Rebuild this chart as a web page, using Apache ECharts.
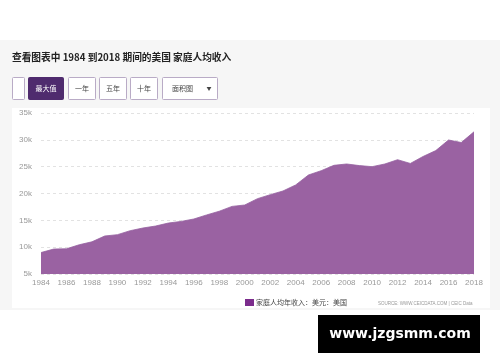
<!DOCTYPE html>
<html><head><meta charset="utf-8">
<script src="https://cdn.jsdelivr.net/npm/echarts@6/dist/echarts.min.js"></script>
<style>html,body{margin:0;padding:0;background:#fff}#c{width:500px;height:362px}</style>
</head><body><div id="c"></div>
<script>
const years = ['1984','1985','1986','1987','1988','1989','1990','1991','1992','1993','1994','1995','1996','1997','1998','1999','2000','2001','2002','2003','2004','2005','2006','2007','2008','2009','2010','2011','2012','2013','2014','2015','2016','2017','2018'];
const income = [9000,9650,9700,10450,11000,12080,12330,13070,13570,13940,14500,14800,15250,16000,16700,17600,17860,19040,19780,20470,21600,23450,24250,25250,25500,25200,25000,25500,26300,25600,26900,28000,29970,29500,31500];
const yTicks = {min:5000, max:35000, interval:5000};
const seriesName = '家庭人均年收入：美元：美国';
const titleText = '查看图表中 1984 到2018 期间的美国 家庭人均收入';
const buttons = ['', '最大值', '一年', '五年', '十年', '面积图'];

const font = '"Noto Sans CJK SC", "Liberation Sans", sans-serif';
const chart = echarts.init(document.getElementById('c'), null, {renderer:'canvas'});

const btnBoxes = [[12,12],[28,35],[68,27],[99,27],[130,27],[162,55]];
const graphics = [
  {type:'rect', z:-10, shape:{x:0,y:40,width:500,height:270}, style:{fill:'#f6f6f6'}},
  {type:'rect', z:-9, shape:{x:12,y:108,width:478,height:200}, style:{fill:'#ffffff'}},
  {type:'text', x:12, y:57, style:{text:titleText, font:'bold 9.7px '+font, fill:'#222', verticalAlign:'middle'}}
];
buttons.forEach((b,i)=>{
  const [x,w] = btnBoxes[i];
  const active = i===1;
  graphics.push({type:'rect', shape:{x:x+0.5,y:77.5,width:w,height:22,r:1},
    style:{fill: active ? '#4f2b6e' : '#fff', stroke: active ? '#4f2b6e' : '#b9abc6', lineWidth:1}});
  if (b) {
    graphics.push({type:'text', x: i===5 ? x+10 : x+w/2+0.5, y:88.5,
      style:{text:b, font:'7px '+font, fill: active ? '#fff' : '#444', align: i===5?'left':'center', verticalAlign:'middle'}});
  }
  if (i===5) {
    graphics.push({type:'text', x:x+47, y:88.5, style:{text:'▼', font:'5px '+font, fill:'#444', align:'center', verticalAlign:'middle'}});
  }
});
graphics.push({type:'text', x:378, y:304, style:{text:'SOURCE: WWW.CEICDATA.COM | CEIC Data', font:'4.5px "Liberation Sans", sans-serif', fill:'#999', verticalAlign:'middle'}});
graphics.push({type:'rect', shape:{x:318,y:315,width:162,height:38}, style:{fill:'#000'}});
graphics.push({type:'text', x:400, y:334, style:{text:'www.jzgsmm.com', font:'bold 14px "DejaVu Sans", sans-serif', fill:'#fff', align:'center', verticalAlign:'middle'}});

chart.setOption({
  animation:false,
  backgroundColor:'#ffffff',
  graphic: graphics,
  grid:{left:41, right:26, top:113, bottom:88, containLabel:false},
  legend:{show:true, left:240, top:294, itemWidth:9, itemHeight:7, itemGap:4,
    icon:'rect', textStyle:{fontSize:7, color:'#444', fontFamily:font, padding:[0,0,0,-3]},
    data:[{name:seriesName, itemStyle:{color:'#7b2c8c'}}]},
  xAxis:{type:'category', data:years, boundaryGap:false,
    axisLine:{show:false}, axisTick:{show:false},
    axisLabel:{interval:1, color:'#999', fontSize:8, fontFamily:'"Liberation Sans", sans-serif', margin:5},
    splitLine:{show:false}},
  yAxis:{type:'value', min:yTicks.min, max:yTicks.max, interval:yTicks.interval,
    axisLine:{show:false}, axisTick:{show:false},
    axisLabel:{color:'#999', fontSize:8, fontFamily:'"Liberation Sans", sans-serif', margin:9,
      formatter:v=>(v/1000)+'k'},
    splitLine:{show:true, lineStyle:{type:[3,3], color:'#e2e2e2', width:1}}},
  series:[{name:seriesName, type:'line', data:income, symbol:'none', smooth:false,
    lineStyle:{width:0.8, color:'#9460a0'},
    areaStyle:{color:'#9a62a2', opacity:1},
    itemStyle:{color:'#7b2c8c'}}]
});
</script></body></html>
